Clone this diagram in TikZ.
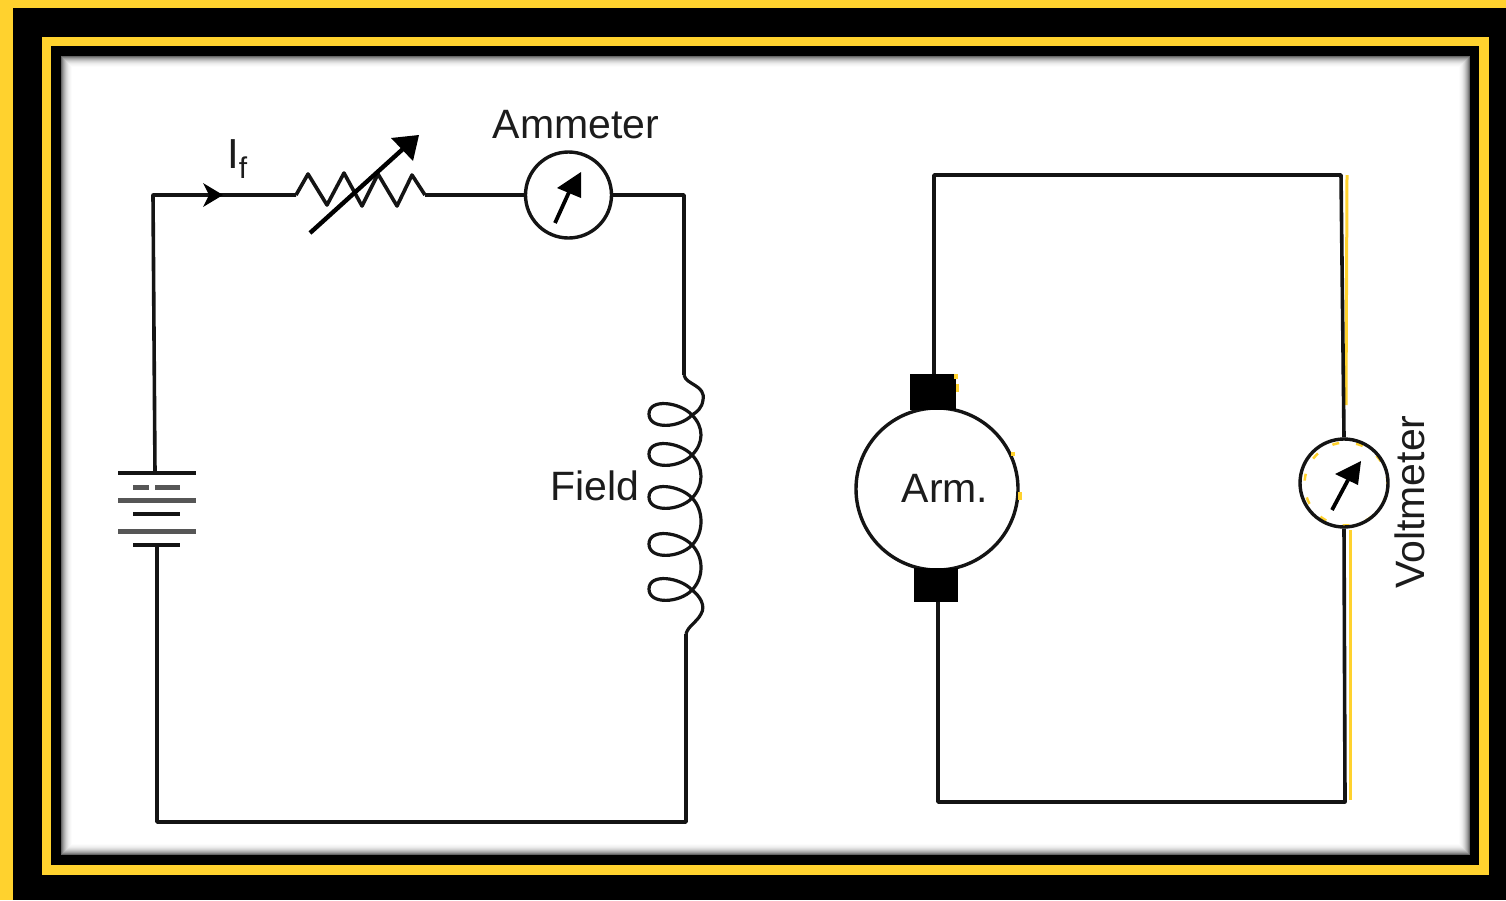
\documentclass[tikz,border=0pt]{standalone}
\usepackage{fontspec}
\setmainfont{Liberation Sans}
\definecolor{bandyellow}{HTML}{FFD22E}
\definecolor{ink}{HTML}{141414}
\definecolor{labelink}{HTML}{1C1C1C}
\tikzset{
  wire/.style={draw=ink,line width=3.6pt,line join=round},
  thinwire/.style={draw=ink,line width=3.2pt,line join=round},
  plate/.style={draw=ink,line width=3.8pt},
  softplate/.style={draw=ink!72,line width=5pt},
  meter/.style={circle,draw=ink,line width=3.4pt,fill=white,inner sep=0pt,minimum size=86pt},
  brush/.style={rectangle,fill=black,inner sep=0pt},
  lab/.style={text=labelink,inner sep=0pt,font=\fontsize{41}{41}\selectfont},
  tip/.style={fill=black,draw=none},
  stray/.style={draw=bandyellow,line width=3pt}
}
\begin{document}
\begin{tikzpicture}[x=1pt,y=-1pt]
\useasboundingbox (0,0) rectangle (1506,900);
% frame
\fill[black] (0,0) rectangle (1506,900);
\fill[bandyellow] (0,0) rectangle (1506,8);
\fill[bandyellow] (0,0) rectangle (13,900);
\fill[bandyellow] (42,37) rectangle (1489,875);
\fill[black] (51,46) rectangle (1479,865);
\foreach \i/\c in {0/60,1/48,2/38,3/30,4/23,5/17,6/12,7/8,8/5,9/3,10/1,11/0}
  \fill[black!\c!white] (61+\i,56+\i) rectangle (1470-\i,855-\i);

% named points, left circuit
\coordinate (LT) at (153,195);
\coordinate (LB) at (157,822);
\coordinate (RT) at (684,195);
\coordinate (RB) at (686,822);
\coordinate (BatTop) at (155,473);
\coordinate (BatBot) at (157,545);
\coordinate (ResIn) at (296,195);
\coordinate (ResOut) at (425,195);
\coordinate (CoilIn) at (684,375);
\coordinate (CoilOut) at (686,634);
\node[meter] (Am) at (568.5,195) {};
\node[lab,anchor=center] (AmLab) at (576,125) {Ammeter};
\node[lab,anchor=center] (FieldLab) at (595,486) {Field};
\node[text=labelink,inner sep=0pt,font=\fontsize{42}{42}\selectfont,anchor=base west] (If) at (227,168) {I\raisebox{-10pt}{\fontsize{30}{30}\selectfont f}};

% left wires
\draw[wire] (BatTop) -- (LT) -- (ResIn);
\draw[wire] (ResOut) -- (Am.west);
\draw[wire] (Am.east) -- (RT) -- (CoilIn);
\draw[wire] (CoilOut) -- (RB) -- (LB) -- (BatBot);
\coordinate (IfTip) at (223,195);
\fill[tip] (IfTip) -- (203,183) -- (209,195) -- (203,207) -- cycle;

% rheostat
\draw[wire] (ResIn) -- (308,174) -- (327,205) -- (344,173) -- (362,206) -- (378,174) -- (397,206) -- (412,175) -- (ResOut);
\coordinate (VarA) at (310,233);
\coordinate (VarB) at (404,148);
\draw[line width=4.4pt,draw=black] (VarA) -- (VarB);
\fill[tip] (419,135) -- (391,138) -- (413,161) -- cycle;

% ammeter needle
\coordinate (AmA) at (555,223);
\coordinate (AmB) at (570,190);
\draw[line width=3.8pt,draw=black] (AmA) -- (AmB);
\fill[tip] (581,172) -- (557,188) -- (581,198) -- cycle;

% battery
\draw[plate] (118,473) -- (196,473);
\draw[softplate] (133,487) -- (149,487);
\draw[softplate] (155,487) -- (180,487);
\draw[softplate] (118,500) -- (196,500);
\draw[plate] (133,514) -- (180,514);
\draw[softplate] (118,531) -- (196,531);
\draw[plate] (133,545) -- (180,545);

% field coil
\draw[thinwire] (CoilIn) .. controls (686,385) and (706,385) .. (703,400) .. controls (702,408) and (697,412) .. (692,415);
\foreach \y in {415,455,498,545,590}
  \draw[thinwire] (692,\y) .. controls (680,\y+13) and (649,\y+15) .. (649,\y-1) .. controls (649,\y-17) and (680,\y-13) .. (692,\y);
\foreach \a/\b in {415/455,455/498,498/545,545/590}
  \draw[thinwire] (692,\a) .. controls (704,\a+12) and (704,\b-12) .. (692,\b);
\draw[thinwire] (692,590) .. controls (700,596) and (706,606) .. (701,614) .. controls (697,622) and (688,626) .. (CoilOut);

% right circuit: stray colour beneath
\coordinate (SA) at (1347,175);
\coordinate (SB) at (1346,405);
\coordinate (SC) at (1350,530);
\coordinate (SD) at (1350,800);
\draw[stray] (SA) -- (SB);
\draw[stray] (SC) -- (SD);

\coordinate (TL) at (934,175);
\coordinate (TR) at (1341,175);
\coordinate (BL) at (938,802);
\coordinate (BR) at (1345,802);
\node[circle,draw=bandyellow,line width=2.5pt,dash pattern=on 7pt off 17pt,fill=white,inner sep=0pt,minimum size=83pt] (VmGhost) at (1346,484) {};
\node[meter,fill=none,minimum size=88pt] (Vm) at (1344,483) {};
\node[circle,draw=ink,line width=3.4pt,fill=white,inner sep=0pt,minimum size=162pt] (Arm) at (937,489) {};
\node[brush,minimum width=46pt,minimum height=36pt] (BrT) at (933,392) {};
\node[brush,minimum width=44pt,minimum height=34pt] (BrB) at (936,585) {};
\node[lab,anchor=center] (ArmLab) at (945,488) {Arm.};
\node[lab,rotate=90,anchor=center] (VmLab) at (1410,502) {Voltmeter};

\draw[wire] (BrT.north -| TL) -- (TL) -- (TR) -- (Vm.north);
\draw[wire] (Vm.south) -- (BR) -- (BL) -- (BrB.south -| BL);

% voltmeter needle
\coordinate (VmA) at (1332,510);
\coordinate (VmB) at (1348,480);
\draw[line width=3.8pt,draw=black] (VmA) -- (VmB);
\fill[tip] (1361,461) -- (1335,474) -- (1358,485) -- cycle;

% stray specks
\fill[bandyellow] (954,374) rectangle (958,379);
\fill[bandyellow] (956,384) rectangle (959,392);
\fill[bandyellow] (1011,452) rectangle (1015,456);
\fill[bandyellow] (1018,492) rectangle (1022,500);
\end{tikzpicture}
\end{document}
